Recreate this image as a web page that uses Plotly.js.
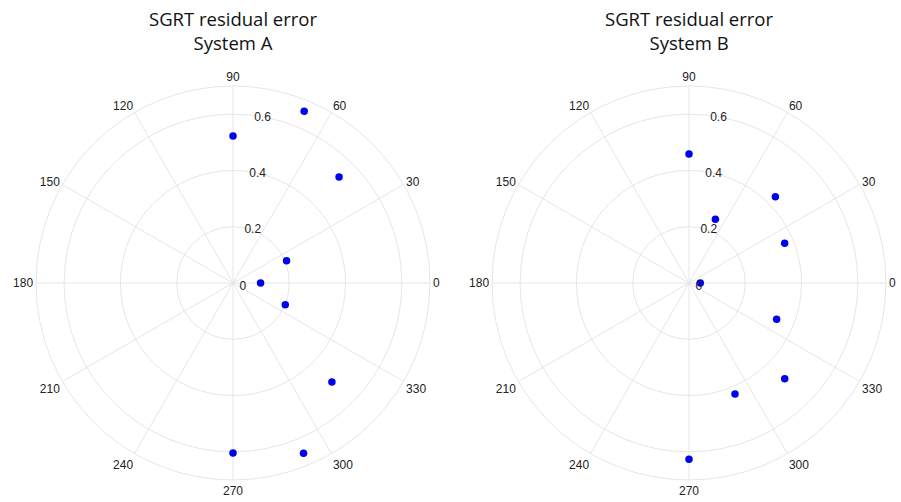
<!DOCTYPE html>
<html>
<head>
<meta charset="utf-8">
<script src="https://cdn.plot.ly/plotly-3.0.1.min.js"></script>
<style>html,body{margin:0;padding:0;background:#fff;}#chart{width:901px;height:502px;}</style>
</head>
<body>
<div id="chart"></div>
<script>
// Gantry angles (deg) and residual errors
const thetaA = [90, 67.5, 45, 22.5, 0, 337.5, 315, 292.5, 270];
const rA     = [0.522, 0.661, 0.533, 0.206, 0.098, 0.201, 0.497, 0.655, 0.604];
const thetaB = [90, 67.5, 45, 22.5, 0, 337.5, 315, 292.5, 270];
const rB     = [0.458, 0.245, 0.434, 0.368, 0.040, 0.337, 0.481, 0.427, 0.626];
const titleA = "SGRT residual error<br>System A";
const titleB = "SGRT residual error<br>System B";
const radialTicks = [0, 0.2, 0.4, 0.6];
const angularTicks = [0, 30, 60, 90, 120, 150, 180, 210, 240, 270, 300, 330];

const marker = {color: "#0000f0", size: 7.5};
const traces = [
  {type: "scatterpolar", mode: "markers", r: rA, theta: thetaA, subplot: "polar", marker: marker, showlegend: false},
  {type: "scatterpolar", mode: "markers", r: rB, theta: thetaB, subplot: "polar2", marker: marker, showlegend: false}
];

function polarCfg(xd) {
  return {
    domain: {x: xd, y: [0.0438, 0.8287]},
    bgcolor: "#fff",
    radialaxis: {
      range: [0, 0.7], tickvals: radialTicks, ticktext: radialTicks.map(String),
      angle: 85, tickangle: 85, showline: false, ticks: "",
      gridcolor: "#e6e6e6", gridwidth: 1,
      tickfont: {family: "Liberation Sans, Arial, sans-serif", size: 12, color: "#222"}
    },
    angularaxis: {
      tickvals: angularTicks, ticktext: angularTicks.map(String),
      direction: "counterclockwise", rotation: 0, ticks: "",
      showline: true, linecolor: "#e6e6e6", gridcolor: "#e6e6e6",
      tickfont: {family: "Liberation Sans, Arial, sans-serif", size: 12, color: "#222"}
    }
  };
}

const layout = {
  width: 901, height: 502,
  margin: {l: 0, r: 0, t: 0, b: 0},
  paper_bgcolor: "#fff",
  polar: polarCfg([36/901, 430/901]),
  polar2: polarCfg([492/901, 886/901]),
  annotations: [
    {text: titleA, x: 233/901, y: 1 - 4/502, xref: "paper", yref: "paper", xanchor: "center", yanchor: "top", showarrow: false,
     font: {family: "Open Sans, sans-serif", size: 18.5, color: "#111"}},
    {text: titleB, x: 689/901, y: 1 - 4/502, xref: "paper", yref: "paper", xanchor: "center", yanchor: "top", showarrow: false,
     font: {family: "Open Sans, sans-serif", size: 18.5, color: "#111"}}
  ]
};

Plotly.newPlot("chart", traces, layout, {displayModeBar: false});
</script>
</body>
</html>
